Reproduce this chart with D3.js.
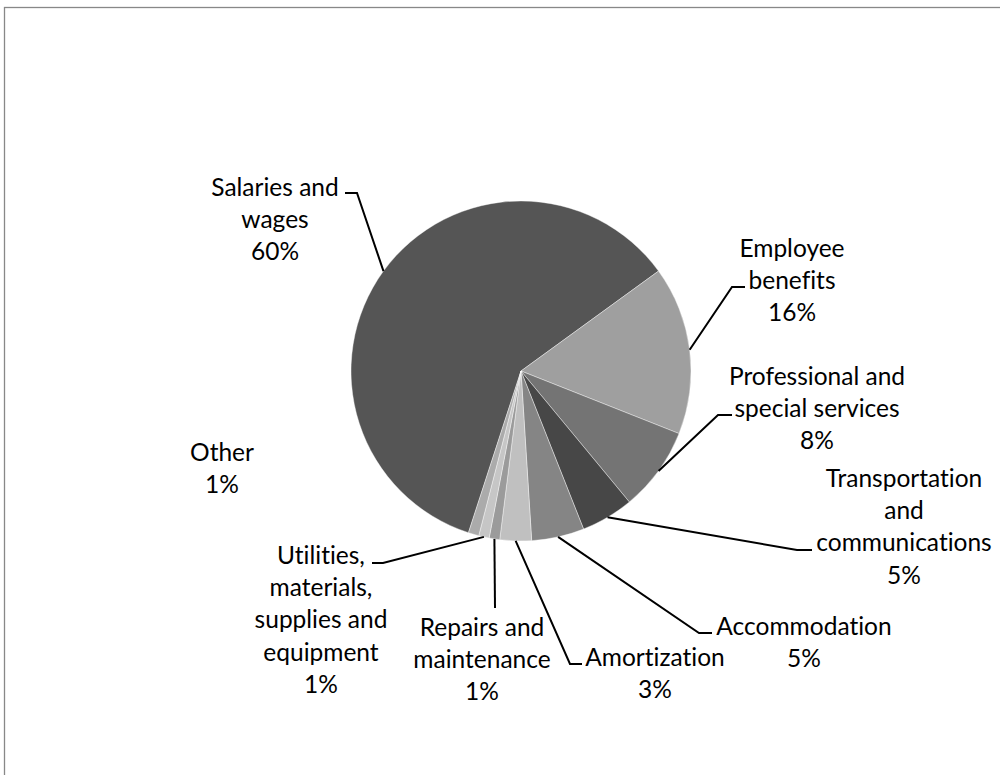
<!DOCTYPE html>
<html>
<head>
<meta charset="utf-8">
<script src="https://cdn.jsdelivr.net/npm/d3@7"></script>
<style>
  html, body { margin: 0; padding: 0; background: #fff; }
  svg { display: block; }
  text {
    font-family: Lato, "Open Sans", sans-serif;
    fill: #000;
    font-variant-ligatures: none;
    font-feature-settings: "liga" 0, "clig" 0;
  }
</style>
</head>
<body>
<svg id="chart" width="1000" height="775"></svg>
<script>
// Expense categories (each label line separated by "|")
const categories = [
  "Salaries and|wages",
  "Employee|benefits",
  "Professional and|special services",
  "Transportation|and|communications",
  "Accommodation",
  "Amortization",
  "Repairs and|maintenance",
  "Utilities,|materials,|supplies and|equipment",
  "Other"
];
// Share of total spending, percent
const shares = [60, 16, 8, 5, 5, 3, 1, 1, 1];
// Slice fills
const fills = ["#555555", "#9f9f9f", "#747474", "#474747", "#858585",
               "#c0c0c0", "#9b9b9b", "#c6c6c6", "#ababab"];

// Label placement: text centre and leader elbow / short horizontal end
const labelLayout = [
  { x: 275, y: 187, elbow: [357, 193], tail: [345, 193] },
  { x: 792, y: 248, elbow: [732, 287], tail: [745, 287] },
  { x: 817, y: 376, elbow: [718, 415], tail: [732, 415] },
  { x: 904, y: 478, elbow: [797, 550], tail: [812, 550] },
  { x: 804, y: 626, elbow: [699, 633], tail: [712, 633] },
  { x: 655, y: 657, elbow: [570, 664], tail: [582, 664] },
  { x: 482, y: 627, elbow: [495, 608], tail: null },
  { x: 321, y: 555, elbow: [383, 563], tail: [372, 563] },
  { x: 222, y: 452, elbow: null, tail: null }
];

const svg = d3.select("#chart");
const cx = 521, cy = 371, radius = 170;
const lineGap = 32.3;
const deg = Math.PI / 180;
const start = 198 * deg;

// Chart area frame
svg.append("rect")
  .attr("x", 4.5).attr("y", 7.5)
  .attr("width", 1000).attr("height", 800)
  .attr("fill", "none")
  .attr("stroke", "#888")
  .attr("stroke-width", 1.3);

const data = categories.map((c, i) => ({ name: c, value: shares[i], fill: fills[i], i }));

const pie = d3.pie()
  .sort(null)
  .value(d => d.value)
  .startAngle(start)
  .endAngle(start + 2 * Math.PI);

const arc = d3.arc().innerRadius(0).outerRadius(radius);
const arcs = pie(data);

const g = svg.append("g").attr("transform", `translate(${cx},${cy})`);

g.selectAll("path.slice")
  .data(arcs)
  .join("path")
  .attr("class", "slice")
  .attr("d", arc)
  .attr("fill", d => d.data.fill)
  .attr("stroke", "#fff")
  .attr("stroke-width", 0.4);

// Leader lines from slice edge midpoint to the label
const leaders = svg.append("g")
  .attr("fill", "none")
  .attr("stroke", "#000")
  .attr("stroke-width", 2);

arcs.forEach(a => {
  const lay = labelLayout[a.data.i];
  if (!lay.elbow) return;
  const mid = (a.startAngle + a.endAngle) / 2;
  const px = cx + radius * Math.sin(mid);
  const py = cy - radius * Math.cos(mid);
  const pts = [[px, py], lay.elbow];
  if (lay.tail) pts.push(lay.tail);
  leaders.append("path").attr("d", d3.line()(pts));
});

// Labels: category lines followed by the percentage
const fmt = d3.format(".0%");
arcs.forEach(a => {
  const lay = labelLayout[a.data.i];
  const lines = a.data.name.split("|").concat([fmt(a.data.value / 100)]);
  const t = svg.append("text")
    .attr("text-anchor", "middle")
    .attr("font-size", 24.5);
  lines.forEach((ln, k) => {
    t.append("tspan")
      .attr("x", lay.x)
      .attr("y", lay.y + k * lineGap)
      .attr("dy", "0.36em")
      .text(ln);
  });
});
</script>
</body>
</html>
